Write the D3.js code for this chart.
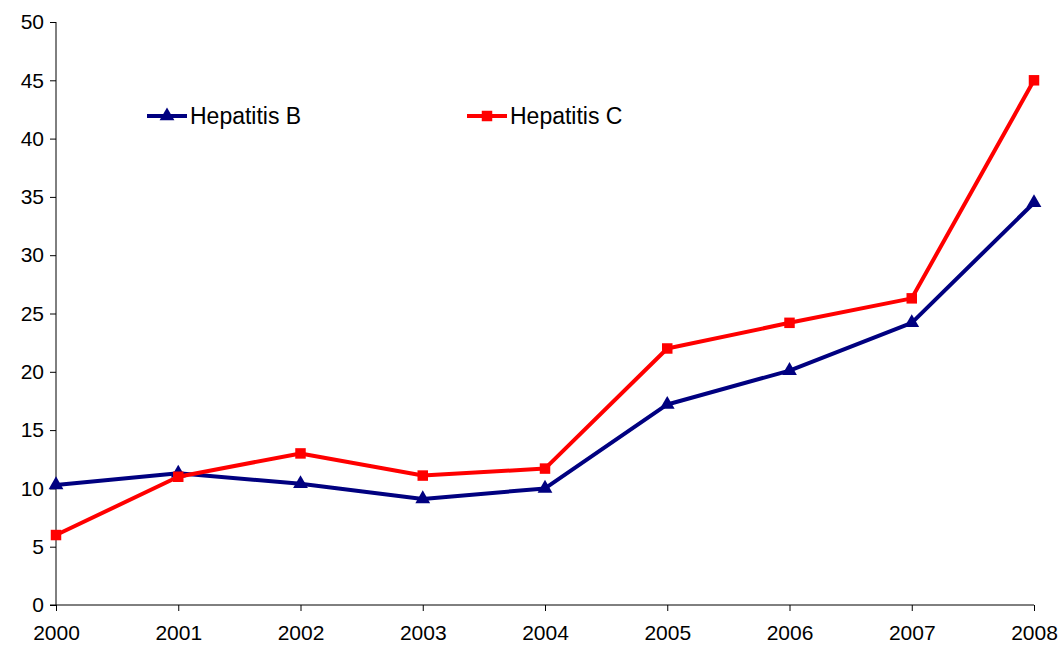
<!DOCTYPE html>
<html><head><meta charset="utf-8">
<script src="https://cdn.jsdelivr.net/npm/d3@7"></script>
<style>body{margin:0;background:#fff}svg{display:block;font-family:"Liberation Sans",Arial,sans-serif}</style>
</head><body><svg id="c" width="1061" height="648"></svg>
<script>
const years = ["2000","2001","2002","2003","2004","2005","2006","2007","2008"];
const hepB = [10.3, 11.3, 10.4, 9.1, 10.0, 17.2, 20.1, 24.2, 34.5];
const hepC = [6.0, 11.0, 13.0, 11.1, 11.7, 22.0, 24.2, 26.3, 45.0];
const yTicks = [0,5,10,15,20,25,30,35,40,45,50];
const seriesNames = ["Hepatitis B","Hepatitis C"];

const svg = d3.select("#c");
const x = d3.scalePoint().domain(years).range([56, 1034]);
const y = d3.scaleLinear().domain([0,50]).range([605, 22]);

const yAxis = svg.append("g").attr("transform","translate(56,0)")
  .call(d3.axisLeft(y).tickValues(yTicks).tickSizeOuter(0).tickSize(6).tickPadding(6));
const xAxis = svg.append("g").attr("transform","translate(0,605)")
  .call(d3.axisBottom(x).tickSizeOuter(0).tickSize(6).tickPadding(14));
[yAxis,xAxis].forEach(a=>{
  a.selectAll("path,line").attr("stroke","#000").attr("stroke-width",1);
  a.selectAll("text").attr("font-size",21).attr("font-family","'Liberation Sans',Arial,sans-serif").attr("fill","#000");
});
yAxis.select("path").attr("d","M0,605V22");
xAxis.select("path").attr("d","M50,0H1034");

const line = d3.line().x((d,i)=>x(years[i])).y(d=>y(d));
const tri = d3.symbol().type(d3.symbolTriangle).size(95);
const sq = d3.symbol().type(d3.symbolSquare).size(110);

function drawSeries(vals, color, sym){
  svg.append("path").datum(vals).attr("d",line).attr("fill","none").attr("stroke",color).attr("stroke-width",4).attr("stroke-linejoin","round");
  svg.append("g").selectAll("path").data(vals).join("path")
    .attr("d",sym).attr("fill",color)
    .attr("transform",(d,i)=>`translate(${x(years[i])},${y(d)})`);
}
drawSeries(hepB, "#000080", tri);
drawSeries(hepC, "#ff0000", sq);

const legend = [
  {name: seriesNames[0], color:"#000080", sym: tri, x0:147},
  {name: seriesNames[1], color:"#ff0000", sym: sq, x0:467}
];
legend.forEach(l=>{
  const g = svg.append("g");
  g.append("line").attr("x1",l.x0).attr("x2",l.x0+40).attr("y1",116).attr("y2",116).attr("stroke",l.color).attr("stroke-width",4);
  g.append("path").attr("d",l.sym).attr("fill",l.color).attr("transform",`translate(${l.x0+20},116)`);
  g.append("text").attr("x",l.x0+43).attr("y",124).attr("font-size",23).attr("fill","#000").text(l.name);
});
</script></body></html>
